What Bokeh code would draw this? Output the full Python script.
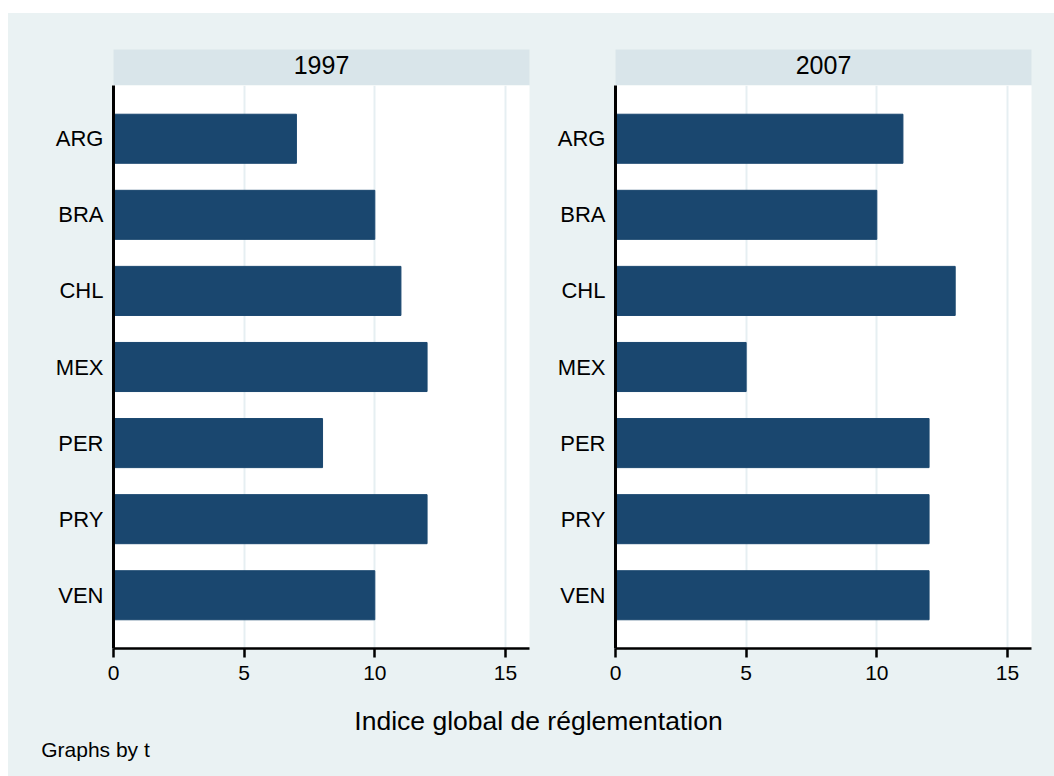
from bokeh.plotting import figure
from bokeh.models import Range1d, FactorRange, FixedTicker, Label, Spacer
from bokeh.layouts import column, row
from bokeh.embed import file_html
from bokeh.resources import INLINE

# ---------------- data ----------------
countries = ["ARG", "BRA", "CHL", "MEX", "PER", "PRY", "VEN"]
years = ["1997", "2007"]
values_1997 = [7, 10, 11, 12, 8, 12, 10]
values_2007 = [11, 10, 13, 5, 12, 12, 12]
x_ticks = [0, 5, 10, 15]
x_max = 15.92
axis_title = "Indice global de réglementation"
note = "Graphs by t"

# ---------------- style ----------------
FONT = "Liberation Sans"
BG = "#EAF2F3"
STRIP = "#D9E5EA"
BAR = "#1A476F"
GRID = "#E6EFF2"

PANEL_H = 615
HEAD_H = 36


def header(text, width, left, right):
    h = figure(width=width, height=HEAD_H, x_range=Range1d(0, 1), y_range=Range1d(HEAD_H, 0),
               x_axis_type=None, y_axis_type=None, output_backend="svg",
               toolbar_location=None, min_border_left=left, min_border_right=right,
               min_border_top=0, min_border_bottom=0)
    h.background_fill_color = STRIP
    h.border_fill_color = BG
    h.outline_line_color = None
    h.grid.visible = False
    h.add_layout(Label(x=0.5, y=15.5, text=text, text_align="center",
                       text_baseline="middle", text_font=FONT,
                       text_font_size="25px", text_color="black"))
    return h


def panel(vals, width, left, right):
    p = figure(width=width, height=PANEL_H,
               y_range=FactorRange(factors=countries[::-1], range_padding=0.2,
                                   range_padding_units="absolute"),
               x_range=Range1d(0, x_max), output_backend="svg", toolbar_location=None,
               min_border_left=left, min_border_right=right,
               min_border_top=0, min_border_bottom=52)
    p.hbar(y=countries, left=0, right=vals, height=0.645,
           fill_color=BAR, line_color=BAR, line_width=1)
    p.background_fill_color = "white"
    p.border_fill_color = BG
    p.outline_line_color = None

    p.xaxis.ticker = FixedTicker(ticks=x_ticks, minor_ticks=[])
    p.xaxis.axis_line_width = 2.5
    p.xaxis.axis_line_color = "black"
    p.xaxis.major_tick_out = 9
    p.xaxis.major_tick_in = 0
    p.xaxis.major_tick_line_width = 2.5
    p.xaxis.major_tick_line_color = "black"
    p.xaxis.minor_tick_line_color = None
    p.xaxis.major_label_standoff = 8
    p.xaxis.major_label_text_font = FONT
    p.xaxis.major_label_text_font_size = "21px"
    p.xaxis.major_label_text_color = "black"

    p.yaxis.axis_line_width = 3
    p.yaxis.axis_line_color = "black"
    p.yaxis.major_tick_line_color = None
    p.yaxis.major_tick_out = 0
    p.yaxis.major_tick_in = 0
    p.yaxis.minor_tick_line_color = None
    p.yaxis.major_label_standoff = 10
    p.yaxis.major_label_text_font = FONT
    p.yaxis.major_label_text_font_size = "22px"
    p.yaxis.major_label_text_color = "black"

    p.ygrid.grid_line_color = None
    p.xgrid.ticker = FixedTicker(ticks=x_ticks, minor_ticks=[])
    p.xgrid.grid_line_color = GRID
    p.xgrid.grid_line_width = 2
    return p


W1, L1, R1 = 542, 105, 21
W2, L2, R2 = 504, 65, 23
TOTAL_W = W1 + W2

h1 = header(years[0], W1, L1, R1)
h2 = header(years[1], W2, L2, R2)
p1 = panel(values_1997, W1, L1, R1)
p2 = panel(values_2007, W2, L2, R2)

FOOT_H = 76
foot = figure(width=TOTAL_W, height=FOOT_H, x_range=Range1d(0, TOTAL_W),
              y_range=Range1d(FOOT_H, 0), x_axis_type=None, y_axis_type=None,
              output_backend="svg", toolbar_location=None, min_border=0)
foot.background_fill_color = BG
foot.border_fill_color = BG
foot.outline_line_color = None
foot.grid.visible = False
foot.add_layout(Label(x=530, y=20, text=axis_title, text_align="center",
                      text_baseline="alphabetic", text_font=FONT,
                      text_font_size="26.5px", text_color="black"))
foot.add_layout(Label(x=32.7, y=49, text=note, text_align="left",
                      text_baseline="alphabetic", text_font=FONT,
                      text_font_size="21px", text_color="black"))

inner = column(Spacer(width=TOTAL_W, height=36),
               row(column(h1, p1), column(h2, p2)),
               foot,
               styles={"background-color": BG})

layout = column(Spacer(width=TOTAL_W + 8, height=13),
                row(Spacer(width=8, height=10), inner))

open("out.html", "w").write(file_html(layout, INLINE))
